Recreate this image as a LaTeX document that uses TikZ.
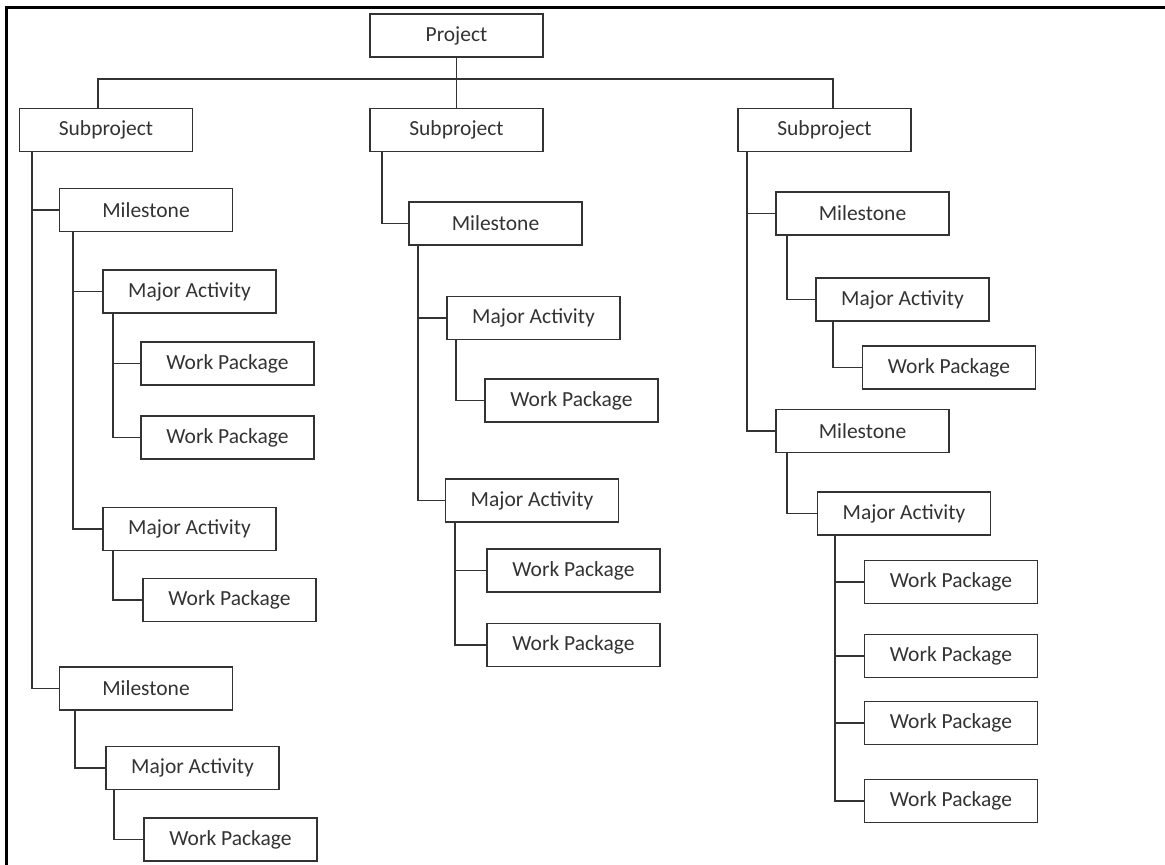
\documentclass[tikz,border=0pt]{standalone}
\usepackage{fontspec}
\setmainfont{Carlito}

\begin{document}
\begin{tikzpicture}[x=1pt,y=-1pt,line width=1.6pt,color=black!80,
  box/.style={draw,rectangle,minimum width=173pt,minimum height=43pt,inner sep=0pt,font=\fontsize{21.5}{26}\selectfont}]
  \useasboundingbox (0,0) rectangle (1165,865);
  \draw[black,line width=3.5pt] (1165,7.5) -- (6.5,7.5) -- (6.5,865);

  \node[box] (P) at (456.5,35.5) {Project};
  \node[box] (S1) at (106,130) {Subproject};
  \node[box] (S2) at (456.5,130) {Subproject};
  \node[box] (S3) at (824.5,130) {Subproject};
  \coordinate (bus) at (457,79);

  \node[box] (M1a) at (146,210) {Milestone};
  \node[box] (A1a) at (189.5,291.5) {Major Activity};
  \node[box] (W1a) at (227.5,363.5) {Work Package};
  \node[box] (W1b) at (227.5,437.5) {Work Package};
  \node[box] (A1b) at (189.5,529) {Major Activity};
  \node[box] (W1c) at (229.5,600) {Work Package};
  \node[box] (M1b) at (146,688.5) {Milestone};
  \node[box] (A1c) at (192.5,768) {Major Activity};
  \node[box] (W1d) at (230.5,839.5) {Work Package};

  \node[box] (M2a) at (495.5,223.5) {Milestone};
  \node[box] (A2a) at (533.5,318) {Major Activity};
  \node[box] (W2a) at (571.5,400.5) {Work Package};
  \node[box] (A2b) at (532,500.5) {Major Activity};
  \node[box] (W2b) at (573.5,570.5) {Work Package};
  \node[box] (W2c) at (573.5,645) {Work Package};

  \node[box] (M3a) at (862.5,213.5) {Milestone};
  \node[box] (A3a) at (902.5,299.5) {Major Activity};
  \node[box] (W3a) at (949,367.5) {Work Package};
  \node[box] (M3b) at (862.5,431) {Milestone};
  \node[box] (A3b) at (904,513.5) {Major Activity};
  \node[box] (W3b) at (951,582) {Work Package};
  \node[box] (W3c) at (951,656) {Work Package};
  \node[box] (W3d) at (951,723) {Work Package};
  \node[box] (W3e) at (951,801) {Work Package};

  \draw (P.south) -- (S2.north);
  \draw ([xshift=-8pt]S1.north) |- (bus) -| ([xshift=8.5pt]S3.north);

  \draw ([xshift=13pt]S1.south west) |- (M1a.west);
  \draw ([xshift=13pt]S1.south west) |- (M1b.west);
  \draw ([xshift=14pt]M1a.south west) |- (A1a.west);
  \draw ([xshift=14pt]M1a.south west) |- (A1b.west);
  \draw ([xshift=11pt]A1a.south west) |- (W1a.west);
  \draw ([xshift=11pt]A1a.south west) |- (W1b.west);
  \draw ([xshift=11pt]A1b.south west) |- (W1c.west);
  \draw ([xshift=16pt]M1b.south west) |- (A1c.west);
  \draw ([xshift=9pt]A1c.south west) |- (W1d.west);

  \draw ([xshift=13pt]S2.south west) |- (M2a.west);
  \draw ([xshift=10pt]M2a.south west) |- (A2a.west);
  \draw ([xshift=10pt]M2a.south west) |- (A2b.west);
  \draw ([xshift=10pt]A2a.south west) |- (W2a.west);
  \draw ([xshift=10pt]A2b.south west) |- (W2b.west);
  \draw ([xshift=10pt]A2b.south west) |- (W2c.west);

  \draw ([xshift=10pt]S3.south west) |- (M3a.west);
  \draw ([xshift=10pt]S3.south west) |- (M3b.west);
  \draw ([xshift=12pt]M3a.south west) |- (A3a.west);
  \draw ([xshift=18pt]A3a.south west) |- (W3a.west);
  \draw ([xshift=12pt]M3b.south west) |- (A3b.west);
  \draw ([xshift=18pt]A3b.south west) |- (W3b.west);
  \draw ([xshift=18pt]A3b.south west) |- (W3c.west);
  \draw ([xshift=18pt]A3b.south west) |- (W3d.west);
  \draw ([xshift=18pt]A3b.south west) |- (W3e.west);
\end{tikzpicture}
\end{document}
